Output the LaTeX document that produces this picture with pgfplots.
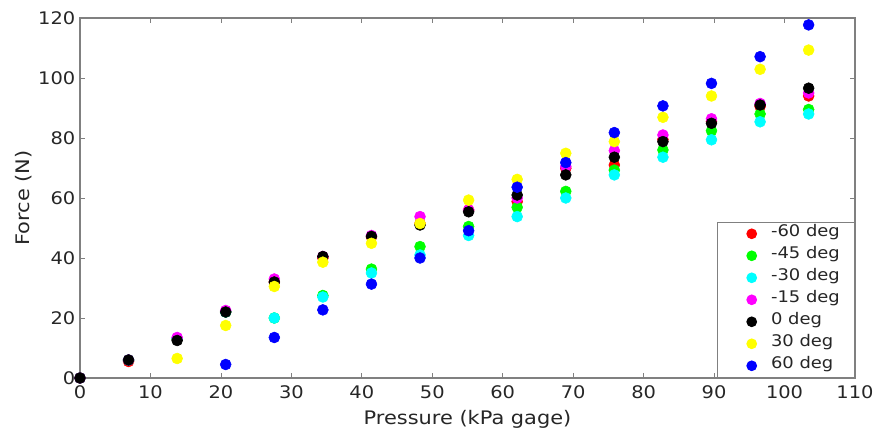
\documentclass[border=0pt]{standalone}
\usepackage{pgfplots}
\pgfplotsset{compat=1.18}
\usepackage{fontspec}
\setmainfont{DejaVu Sans}[FakeStretch=1.12]
\definecolor{axgray}{RGB}{128,128,128}
\definecolor{txt}{RGB}{38,38,38}
\definecolor{pred}{RGB}{255,0,0}
\definecolor{pgreen}{RGB}{0,255,0}
\definecolor{pcyan}{RGB}{0,255,255}
\definecolor{pmagenta}{RGB}{255,0,255}
\definecolor{pyellow}{RGB}{255,255,0}
\definecolor{pblue}{RGB}{0,0,255}
\pgfplotstableread{
x y
0 0
6.89 5.5
13.79 13
20.68 22
27.58 32
34.47 40
41.37 47
48.26 51.5
55.16 56
62.05 58.8
68.95 69.9
75.84 71
82.74 79.5
89.63 85.5
96.53 90.5
103.42 94
}\dneg
\pgfplotstableread{
x y
0 0
6.89 6
13.79 13
20.68 22
27.58 20
34.47 27.5
41.37 36.3
48.26 43.8
55.16 50.5
62.05 56.9
68.95 62.2
75.84 69.3
82.74 76
89.63 82.4
96.53 88
103.42 89.5
}\dfff
\pgfplotstableread{
x y
0 0
6.89 6
13.79 13.2
20.68 22
27.58 20
34.47 27
41.37 35
48.26 41
55.16 47.5
62.05 53.8
68.95 60
75.84 67.7
82.74 73.6
89.63 79.4
96.53 85.4
103.42 88
}\dthirty
\pgfplotstableread{
x y
0 0
6.89 6
13.79 13.5
20.68 22.5
27.58 33
34.47 40.5
41.37 47.5
48.26 53.8
55.16 56
62.05 60
68.95 70.5
75.84 75.8
82.74 81
89.63 86.4
96.53 91.5
103.42 95
}\dfifteen
\pgfplotstableread{
x y
0 0
6.89 6
13.79 12.5
20.68 22
27.58 32
34.47 40.5
41.37 47.2
48.26 51
55.16 55.4
62.05 61
68.95 67.7
75.84 73.6
82.74 78.8
89.63 84.9
96.53 91
103.42 96.6
}\dzero
\pgfplotstableread{
x y
13.79 6.5
20.68 17.5
27.58 30.5
34.47 38.6
41.37 44.9
48.26 51.5
55.16 59.3
62.05 66.2
68.95 74.9
75.84 78.8
82.74 86.9
89.63 94
96.53 102.9
103.42 109.3
}\dpthirty
\pgfplotstableread{
x y
20.68 4.5
27.58 13.5
34.47 22.7
41.37 31.3
48.26 40
55.16 49.1
62.05 63.6
68.95 71.8
75.84 81.8
82.74 90.7
89.63 98.2
96.53 107.1
103.42 117.7
}\dpsixty
\begin{document}
\begin{tikzpicture}
\useasboundingbox (-60pt,-42pt) rectangle (597pt,283.5pt);
\begin{axis}[
  at={(0,0)}, anchor=south west,
  scale only axis, width=581.25pt, height=270pt,
  xmin=0, xmax=110, ymin=0, ymax=120,
  xtick={0,10,...,110}, ytick={0,20,...,120},
  tick align=inside, major tick length=4pt,
  axis line style={axgray, line width=0.8pt},
  every tick/.style={axgray, line width=0.6pt},
  tick label style={font=\fontsize{13}{15}\selectfont, text=txt},
  xticklabel style={yshift=-2pt},
  /pgf/number format/assume math mode=true,
  label style={font=\fontsize{14}{16}\selectfont, text=txt},
  xlabel={Pressure (kPa gage)},
  ylabel={Force (N)},
  xlabel style={yshift=-2pt},
  ylabel style={yshift=-2pt},
  clip=false,
  legend style={at={(1,0)}, anchor=south east, draw=axgray, line width=0.8pt,
    font=\fontsize{12}{14}\selectfont, text=txt, inner xsep=9pt, inner ysep=0.5pt,
    row sep=0pt, column sep=3pt,
    nodes={inner ysep=0pt, text height=10pt, text depth=6.5pt},
    cells={anchor=west}},
  legend image code/.code={\path[draw=none] (0pt,0pt) -- (26pt,0pt);
    \draw[mark size=3.6pt] plot coordinates {(16.5pt,0pt)};},
  every axis plot/.append style={only marks, mark=*, mark size=4.1pt},
]
\addplot[pred, mark options={draw=pred, fill=pred}] table {\dneg};
\addplot[pgreen, mark options={draw=pgreen, fill=pgreen}] table {\dfff};
\addplot[pcyan, mark options={draw=pcyan, fill=pcyan}] table {\dthirty};
\addplot[pmagenta, mark options={draw=pmagenta, fill=pmagenta}] table {\dfifteen};
\addplot[black, mark options={draw=black, fill=black}] table {\dzero};
\addplot[pyellow, mark options={draw=pyellow, fill=pyellow}] table {\dpthirty};
\addplot[pblue, mark options={draw=pblue, fill=pblue}] table {\dpsixty};
\legend{-60 deg,-45 deg,-30 deg,-15 deg,0 deg,30 deg,60 deg}
\end{axis}
\end{tikzpicture}
\end{document}
